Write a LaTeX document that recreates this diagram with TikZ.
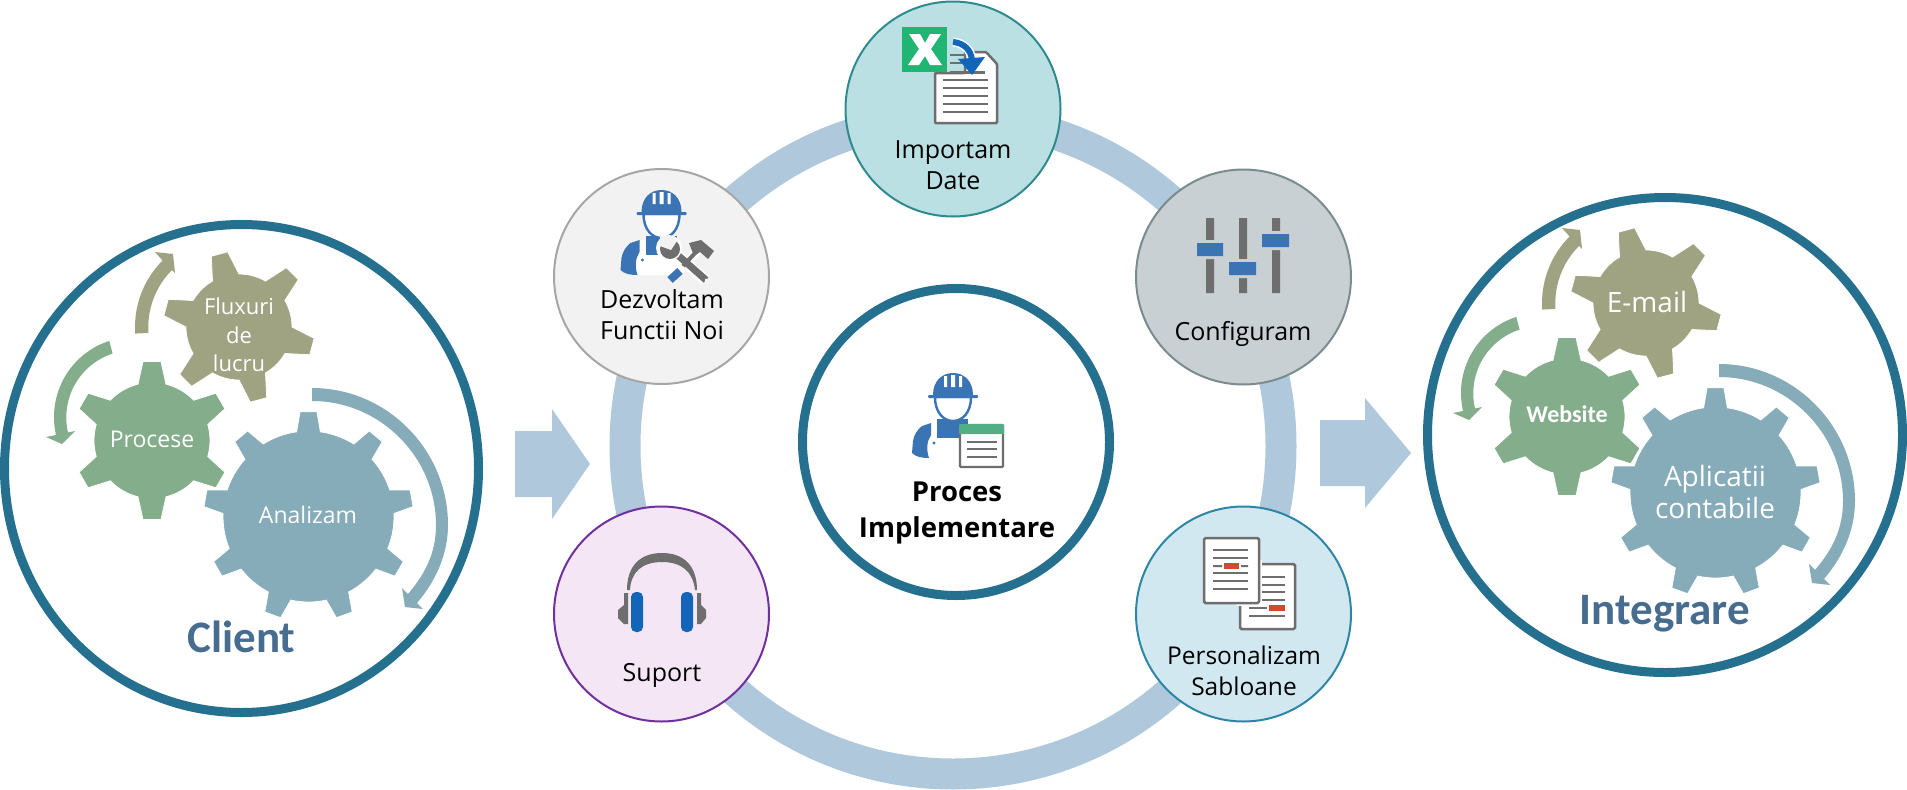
\documentclass[tikz,border=0pt]{standalone}
\usepackage{fontspec}
\usetikzlibrary{shapes.geometric}
\setmainfont{Open Sans}
\newfontfamily\calib{Carlito}
\definecolor{teal}{HTML}{26708F}
\definecolor{pale}{HTML}{AFC8DB}
\definecolor{olv}{HTML}{9FA382}
\definecolor{grn}{HTML}{84AD8B}
\definecolor{blu}{HTML}{85ACB8}
\definecolor{ttl}{HTML}{466C90}
\definecolor{wk}{HTML}{3A74B4}
\definecolor{gry}{HTML}{6E6E6E}
\definecolor{redd}{HTML}{D04A2E}
\definecolor{hdb}{HTML}{1265B8}
\definecolor{xlg}{HTML}{21B573}
\definecolor{hdr}{HTML}{52AE85}
\definecolor{dezf}{HTML}{F2F2F2}
\definecolor{dezd}{HTML}{A6A6A6}
\definecolor{impf}{HTML}{BBE0E3}
\definecolor{impd}{HTML}{2F8A8F}
\definecolor{cfgf}{HTML}{C8D0D3}
\definecolor{cfgd}{HTML}{7A8C8E}
\definecolor{perf}{HTML}{D2E8F1}
\definecolor{perd}{HTML}{2E86A6}
\definecolor{supf}{HTML}{F5E6F6}
\definecolor{supd}{HTML}{7030A0}
\tikzset{
  x=1pt,y=-1pt,
  bigring/.style={circle,draw=teal,line width=9pt,fill=white,minimum size=475pt,inner sep=0pt},
  sat/.style={circle,line width=2pt,minimum size=215pt,inner sep=0pt},
  lbl/.style={inner sep=0pt,align=center,font=\fontsize{25}{31}\selectfont,text=black},
  glbl/.style={inner sep=0pt,align=center,text=white},
  ttlbl/.style={inner sep=0pt,anchor=base,text=ttl,font=\calib\bfseries\fontsize{45}{45}\selectfont},
  blockarrow/.style={fill=pale},
  trk/.style={fill=gry},
  knob/.style={fill=wk},
  doc/.style={fill=white,draw=gry,line width=2.5pt,rounded corners=1.5pt},
}
% cx cy rootR tipR n rot hb ht colour
\newcommand{\gearshape}[9]{%
  \begin{scope}[shift={(#1,#2)}]
    \fill[#9,draw=white,line width=0.8pt] (#6-90-#7:#3)
      \foreach \i [evaluate=\i as \a using #6-90+\i*360/#5] in {1,...,#5} {
        -- (\a-360/#5-#7:#3) -- (\a-360/#5-#8:#4) -- (\a-360/#5+#8:#4) -- (\a-360/#5+#7:#3)
        arc[start angle=\a-360/#5+#7,end angle=\a-#7,radius=#3]
      } -- cycle;
  \end{scope}}
\newcommand{\cluster}[1]{%
  % olive arrow
  \fill[olv] (229,327) ++(176:94) arc[start angle=176,end angle=225,radius=94]
     -- (155,252) -- (173,254) -- (175,273) -- (172,270)
     arc[start angle=225,end angle=176,radius=81] -- cycle;
  % green arrow
  \fill[grn] (134,417) ++(252:80) arc[start angle=252,end angle=167,radius=80]
     -- (46,437) -- (62,444) -- (75,431) -- (68,432.4)
     arc[start angle=167,end angle=252,radius=67] -- cycle;
  % blue arrow
  \fill[blu] (312,388) .. controls (387,388) and (448,450) .. (448,525)
     .. controls (448,555) and (435,582) .. (417,603)
     -- (423,609) -- (405,607) -- (402,588) -- (408,594)
     .. controls (426,573) and (436,552) .. (436,525)
     .. controls (436,457) and (380,401) .. (312,401) -- cycle;
  \gearshape{239}{327}{53}{76}{6}{-15}{15}{6.4}{olv}
  \gearshape{152+#1}{440.5}{58}{79.5}{6}{0}{14}{6.5}{grn}
  \gearshape{308.5}{516.5}{85.5}{105}{9}{0}{8}{4.6}{blu}
}
\newcommand{\worker}[2]{%
  \begin{scope}[shift={(#1,#2)}]
    \fill[white] (-27,66) -- (-21,50) -- (18,50) -- (18,85) -- (-29,85) -- cycle;
    \fill[wk] (-22,50) -- (-31,53) .. controls (-36,57) and (-39,62) .. (-40,68) -- (-41,80) .. controls (-37,84) and (-31,85) .. (-24,85)
       .. controls (-27,76) and (-26,68) .. (-22,62) -- cycle;
    \fill[wk] (-16,46) rectangle (15,65);
    \fill[wk] (-19,70) circle (1.6);
    \fill[white,draw=wk,line width=2.4pt] (-18,24) .. controls (-18,40) and (-9,48) .. (0,48) .. controls (9,48) and (18,40) .. (18,24) -- cycle;
    \fill[wk] (-20,22) .. controls (-20,8) and (-11,0) .. (0,0) .. controls (11,0) and (20,8) .. (20,22) -- cycle;
    \fill[wk,rounded corners=1pt] (-25,22) rectangle (25,25);
    \fill[white] (-9,3) rectangle (-6,14) (-2,2) rectangle (2,14) (6,3) rectangle (9,14);
  \end{scope}}
\begin{document}
\begin{tikzpicture}
\useasboundingbox (0,0) rectangle (1907,790);
% large ring
\draw[pale,line width=31pt] (953,446) circle (328);
% block arrows
\path[blockarrow] (515,431) -- (552,431) -- (552,409) -- (590,464) -- (552,519) -- (552,497) -- (515,497) -- cycle;
\path[blockarrow] (1320,420) -- (1365,420) -- (1365,398) -- (1411,453) -- (1365,508) -- (1365,486) -- (1320,486) -- cycle;
% big circles
\node[ellipse,draw=teal,line width=9pt,fill=white,minimum width=474pt,minimum height=488pt,inner sep=0pt] (client) at (241.5,468.5) {};
\node[bigring] (integr) at (1665,435) {};
\node[bigring,minimum size=307pt] (centre) at (956,442) {};
% clusters
\cluster{0}
\begin{scope}[shift={(1407,-24)}]
\cluster{8}
\end{scope}
\node[glbl,anchor=base,font=\fontsize{23}{28}\selectfont] (tp) at (152,447) {Procese};
\node[glbl,anchor=base,font=\fontsize{23}{28}\selectfont] (ta) at (308,523) {Analizam};
\node[glbl,font=\fontsize{22}{28.5}\selectfont] (tf) at (239,335) {Fluxuri\\de\\lucru};
\node[ttlbl] (tclient) at (241.5,652) {Client};
\node[glbl,anchor=base,font=\calib\bfseries\fontsize{24}{28}\selectfont] (tw) at (1567,422) {Website};
\node[glbl,anchor=base,font=\fontsize{28}{32}\selectfont] (te) at (1647,312) {E-mail};
\node[glbl,font=\fontsize{28}{32}\selectfont] (tap) at (1715,492) {Aplicatii\\contabile};
\node[ttlbl] (tint) at (1665,624) {Integrare};
% satellites
\node[sat,fill=dezf,draw=dezd] (dez) at (661.5,276.5) {};
\node[sat,fill=impf,draw=impd] (imp) at (953,109) {};
\node[sat,fill=cfgf,draw=cfgd] (cfg) at (1243.5,277) {};
\node[sat,fill=perf,draw=perd] (per) at (1243.5,614) {};
\node[sat,fill=supf,draw=supd] (sup) at (661.5,614) {};
% labels
\node[lbl] (l1) at (953,165) {Importam\\Date};
\node[lbl] (l2) at (662,315) {Dezvoltam\\Functii Noi};
\node[lbl,anchor=base] (l3) at (1243,340) {Configuram};
\node[lbl,font=\fontsize{24.5}{31}\selectfont] (l4) at (1244,671) {Personalizam\\Sabloane};
\node[lbl,anchor=base] (l5) at (662,681) {Suport};
\node[lbl,font=\bfseries\fontsize{27.5}{36}\selectfont] (l6) at (957,513) {Proces\\Implementare};
% central worker + card
\worker{953}{373}
\path[fill=white,draw=gry,line width=2.2pt,rounded corners=1pt] (960,425) rectangle (1003,467);
\fill[hdr,rounded corners=1pt] (959,424) rectangle (1004,434);
\foreach \yy in {442,449,457}{\fill[gry] (967,\yy-1) rectangle (997,\yy+1);}
% Dezvoltam worker + tools
\worker{661.5}{190}
\draw[white,line width=11pt] (672,250) -- (705,280);
\draw[white,line width=9pt] (671,280) -- (700,248);
\draw[wk,line width=8pt] (670,280) -- (680,271);
\draw[gry,line width=4pt] (683,266) -- (696,252);
\fill[gry] (689,243) -- (701,240) -- (714,251) -- (708,259) -- (700,252) -- (694,256) -- cycle;
\draw[gry,line width=7pt] (672,250) -- (706,280);
\fill[white] (669,248) circle (13);
\fill[gry] (670,249) circle (10);
\fill[dezf] (660,246) -- (671,250) -- (677,241) -- (672,236) -- (660,236) -- cycle;
\fill[white] (706,280) circle (1.5);
% Importam icons
\path[fill=white,draw=gry,line width=2.5pt,rounded corners=1pt] (965,52) -- (986,52) -- (997,64) -- (997,123) -- (935,123) -- (935,73) -- (965,73) -- cycle;
\foreach \yy in {80,88,96,104,112}{\fill[gry] (943,\yy-1) rectangle (988,\yy+1);}
\foreach \yy in {55,63}{\fill[gry] (950,\yy-1) rectangle (965,\yy+1);}
\fill[gry] (950,71) rectangle (985,74);
\draw[white,line width=9pt] (953,42) .. controls (964,43) and (971,50) .. (972,60);
\draw[hdb,line width=6pt] (953,42) .. controls (964,43) and (971,50) .. (972,60);
\fill[hdb] (958,59) -- (985,57) -- (972,75) -- cycle;
\fill[xlg] (902,27) rectangle (947,72);
\path[fill=white] (909,34) -- (920,34) -- (925,43) -- (930,34) -- (941,34) -- (931,49) -- (942,65) -- (930,65) -- (925,56) -- (919,65) -- (908,65) -- (919,49) -- cycle;
% sliders
\fill[trk] (1206,218) rectangle (1214,293) (1239,218) rectangle (1247,293) (1272,218) rectangle (1280,293);
\fill[cfgf] (1197,240) rectangle (1223,259) (1229,259) rectangle (1256,278) (1262,231) rectangle (1289,250);
\fill[knob] (1197,243) rectangle (1223,256) (1229,262) rectangle (1256,275) (1262,234) rectangle (1289,247);
% templates
\path[doc] (1240,564) rectangle (1295,629);
\fill[white] (1236,560) rectangle (1262,606);
\foreach \yy in {577,585,592,600}{\fill[gry] (1262,\yy-1) rectangle (1285,\yy+1);}
\fill[gry] (1249,607) rectangle (1267,609);
\fill[redd] (1269,605) rectangle (1285,611);
\fill[gry] (1249,615) rectangle (1285,617);
\path[doc] (1204,538) rectangle (1259,603);
\foreach \yy in {550,558,573,581,589}{\fill[gry] (1213,\yy-1) rectangle (1248,\yy+1);}
\fill[gry] (1213,565) rectangle (1222,567) (1241,565) rectangle (1248,567);
\fill[redd] (1224,563) rectangle (1239,569);
% headphones
\fill[gry] (627,590) .. controls (627,566) and (640,553) .. (662,553) .. controls (684,553) and (697,566) .. (697,590) -- (695,590)
   .. controls (693,572) and (682,562) .. (662,562) .. controls (642,562) and (631,572) .. (630,590) -- cycle;
\fill[gry] (628,593) -- (624,593) -- (624,605) -- (618,610) -- (618,618) -- (624,624) -- (628,624) -- cycle;
\fill[gry] (697,593) -- (701,593) -- (701,605) -- (706,610) -- (706,618) -- (701,624) -- (697,624) -- cycle;
\fill[hdb,rounded corners=5pt] (631,592) rectangle (643,632);
\fill[hdb,rounded corners=5pt] (681,592) rectangle (693,632);
\end{tikzpicture}
\end{document}
